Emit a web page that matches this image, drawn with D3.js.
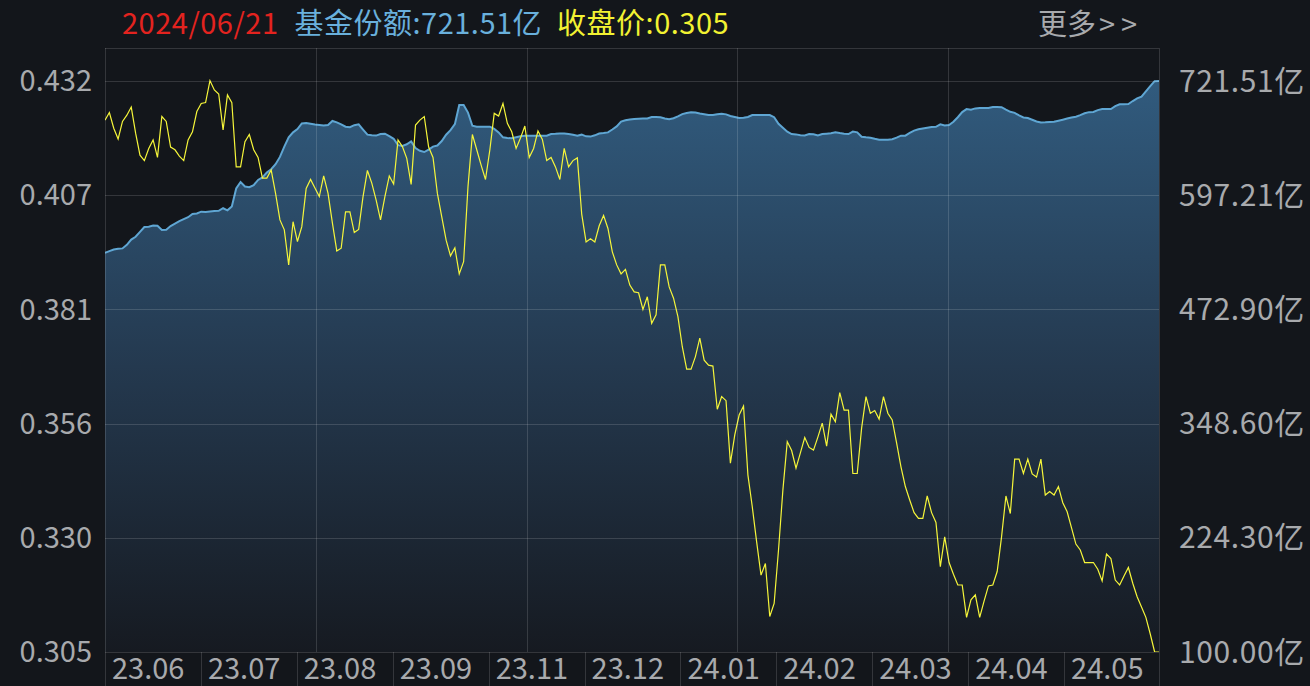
<!DOCTYPE html>
<html><head><meta charset="utf-8">
<script src="https://cdn.jsdelivr.net/npm/d3@7"></script>
<style>
html,body{margin:0;padding:0;background:#13161b;overflow:hidden;}
svg{display:block;}
text{font-family:"Noto Sans CJK SC","Noto Sans",sans-serif;}
</style></head>
<body>
<svg id="c" width="1310" height="686"></svg>
<script>
const headerDate = "2024/06/21";
const headerShare = "基金份额:721.51亿";
const headerPrice = "收盘价:0.305";
const moreLabel = "更多";
const moreArrows = ">>";

const monthLabels = ["23.06","23.07","23.08","23.09","23.11","23.12","24.01","24.02","24.03","24.04","24.05"];
const priceTicks = [0.432, 0.4066, 0.3812, 0.3558, 0.3304, 0.305];
const priceTickLabels = ["0.432","0.407","0.381","0.356","0.330","0.305"];
const shareTicks = [721.51, 597.21, 472.90, 348.60, 224.30, 100.00];
const shareTickLabels = ["721.51亿","597.21亿","472.90亿","348.60亿","224.30亿","100.00亿"];

// closing price (daily)
const closePrice = [
0.4233,0.4250,0.4215,0.4191,0.4230,0.4244,0.4262,0.4204,0.4155,0.4143,
0.4170,0.4189,0.4150,0.4241,0.4230,0.4173,0.4167,0.4153,0.4143,0.4189,
0.4207,0.4252,0.4270,0.4272,0.4321,0.4300,0.4291,0.4211,0.4289,0.4272,
0.4129,0.4129,0.4185,0.4201,0.4167,0.4150,0.4104,0.4104,0.4122,0.4070,
0.4011,0.3989,0.3911,0.4007,0.3963,0.3996,0.4081,0.4101,0.4082,0.4063,
0.4109,0.4070,0.4004,0.3942,0.3948,0.4029,0.4029,0.3983,0.3990,0.4063,
0.4121,0.4093,0.4055,0.4011,0.4063,0.4109,0.4091,0.4189,0.4174,0.4148,
0.4090,0.4222,0.4233,0.4241,0.4173,0.4150,0.4070,0.4018,0.3966,0.3931,
0.3949,0.3891,0.3918,0.4085,0.4201,0.4167,0.4133,0.4101,0.4167,0.4248,
0.4242,0.4270,0.4226,0.4207,0.4170,0.4193,0.4220,0.4150,0.4170,0.4209,
0.4190,0.4143,0.4150,0.4129,0.4101,0.4170,0.4129,0.4143,0.4149,0.4024,
0.3962,0.3969,0.3962,0.3998,0.4021,0.3992,0.3940,0.3911,0.3891,0.3901,
0.3866,0.3851,0.3849,0.3812,0.3840,0.3781,0.3800,0.3911,0.3911,0.3862,
0.3837,0.3796,0.3729,0.3679,0.3679,0.3707,0.3748,0.3699,0.3688,0.3686,
0.3590,0.3618,0.3609,0.3470,0.3533,0.3577,0.3597,0.3444,0.3373,0.3295,
0.3221,0.3247,0.3129,0.3158,0.3277,0.3410,0.3518,0.3498,0.3459,0.3493,
0.3527,0.3505,0.3499,0.3528,0.3559,0.3508,0.3579,0.3562,0.3627,0.3588,
0.3588,0.3447,0.3447,0.3548,0.3618,0.3581,0.3587,0.3568,0.3618,0.3581,
0.3566,0.3515,0.3462,0.3418,0.3388,0.3360,0.3347,0.3347,0.3397,0.3360,
0.3338,0.3240,0.3306,0.3249,0.3223,0.3199,0.3199,0.3127,0.3166,0.3177,
0.3127,0.3163,0.3197,0.3199,0.3229,0.3306,0.3397,0.3358,0.3479,0.3479,
0.3447,0.3479,0.3446,0.3439,0.3479,0.3399,0.3407,0.3399,0.3418,0.3382,
0.3362,0.3326,0.3290,0.3277,0.3249,0.3249,0.3249,0.3234,0.3208,0.3268,
0.3258,0.3210,0.3199,0.3219,0.3238,0.3203,0.3173,0.3150,0.3127,0.3090,
0.3050,0.3050
];

// fund shares (亿份, daily)
const fundShares = [
534.6,536.4,538.1,538.9,539.3,543.2,548.9,552.0,557.3,562.6,
562.9,564.2,563.9,559.3,559.6,563.6,566.2,568.9,571.1,573.2,
576.8,577.3,579.3,578.8,579.4,580.0,580.2,583.0,580.7,585.0,
604.6,611.6,606.7,606.0,608.2,613.8,616.5,621.8,625.5,631.0,
638.9,650.1,660.3,665.6,669.1,675.3,675.8,674.9,674.1,673.6,
673.1,673.7,678.0,676.5,674.4,671.8,671.3,673.4,674.3,668.6,
663.1,662.4,662.1,663.8,664.2,661.4,658.6,651.7,650.9,652.6,
655.7,648.5,645.6,644.2,646.8,650.1,651.3,656.2,663.0,668.0,
674.5,695.4,695.4,687.1,672.8,671.8,671.8,671.8,671.8,669.3,
665.6,660.2,659.5,659.1,660.2,661.4,662.0,662.0,662.0,662.0,
662.0,662.0,663.8,664.0,664.4,664.3,663.7,663.0,661.9,663.1,
661.3,661.0,662.4,664.3,664.8,665.6,668.7,672.1,677.3,678.7,
679.7,680.2,680.4,680.6,680.8,682.2,682.4,682.0,680.8,679.9,
681.0,683.0,685.5,686.7,687.4,687.1,686.1,685.4,684.5,684.5,
685.3,685.9,685.2,683.5,682.3,681.2,681.6,682.4,684.5,684.5,
684.5,684.5,684.5,682.1,674.9,670.6,666.4,663.8,663.4,662.4,
662.2,663.8,663.6,662.2,663.8,664.2,664.7,665.7,664.8,664.2,
663.8,666.4,665.6,660.8,660.2,659.8,658.6,657.6,657.6,657.6,
658.1,659.9,662.0,662.0,665.0,667.5,668.9,669.9,670.7,671.4,
671.7,674.3,673.2,673.6,677.2,682.1,687.7,690.9,690.3,691.7,
692.1,692.1,692.1,693.1,693.2,693.0,690.4,688.0,686.8,684.0,
681.8,681.2,679.3,677.5,676.3,676.5,676.9,677.2,678.3,679.4,
680.6,681.8,682.7,684.3,686.4,687.6,687.8,689.8,690.9,691.0,
691.0,694.1,696.2,696.3,696.5,699.7,702.6,704.5,710.3,716.0,
721.3,721.51
];

const W = 1310, H = 686;
const L = 105, R = 1159, T = 48, B = 652, AX = 686;
const svg = d3.select("#c");

const x = d3.scaleLinear().domain([0, closePrice.length - 1]).range([L, R]);
const yP = d3.scaleLinear().domain([0.305, 0.432]).range([B, 81]);
const yS = d3.scaleLinear().domain([100, 721.51]).range([B, 81]);
const xBand = d3.scaleBand().domain(monthLabels).range([L, R + 1]);
const xGrid = d3.scaleLinear().domain([0, 5]).range([L, R]);

const defs = svg.append("defs");
const grad = defs.append("linearGradient").attr("id","ag")
  .attr("gradientUnits","userSpaceOnUse").attr("x1",0).attr("x2",0).attr("y1",81).attr("y2",B);
grad.append("stop").attr("offset","0%").attr("stop-color","#315b7e");
grad.append("stop").attr("offset","50%").attr("stop-color","#24394f");
grad.append("stop").attr("offset","100%").attr("stop-color","#161a21");
defs.append("clipPath").attr("id","clip").append("rect")
  .attr("x",L).attr("y",T).attr("width",R-L).attr("height",B-T);

// area of fund shares
const area = d3.area().x((d,i)=>x(i)).y0(B).y1(d=>yS(d)).curve(d3.curveLinear);
const sline = d3.line().x((d,i)=>x(i)).y(d=>yS(d));
const g = svg.append("g").attr("clip-path","url(#clip)");
g.append("path").datum(fundShares).attr("d",area).attr("fill","url(#ag)");
g.append("path").datum(fundShares).attr("d",sline).attr("fill","none")
  .attr("stroke","#5fa6d3").attr("stroke-width",2);

// grid
const gridCol = "rgba(255,255,255,0.14)";
const grid = svg.append("g");
grid.selectAll("line.h").data(priceTicks).join("line")
  .attr("x1",L).attr("x2",R).attr("y1",d=>Math.round(yP(d))+0.5).attr("y2",d=>Math.round(yP(d))+0.5)
  .attr("stroke",gridCol).attr("stroke-width",1);
grid.selectAll("line.v").data(d3.range(1,5)).join("line")
  .attr("x1",d=>Math.round(xGrid(d))+0.5).attr("x2",d=>Math.round(xGrid(d))+0.5)
  .attr("y1",T).attr("y2",B).attr("stroke",gridCol);
// frame
grid.append("line").attr("x1",L).attr("x2",R).attr("y1",T+0.5).attr("y2",T+0.5).attr("stroke",gridCol);
grid.append("line").attr("x1",L+0.5).attr("x2",L+0.5).attr("y1",T).attr("y2",AX).attr("stroke",gridCol);
grid.append("line").attr("x1",R+0.5).attr("x2",R+0.5).attr("y1",T).attr("y2",AX).attr("stroke",gridCol);
// bottom axis separators
grid.selectAll("line.s").data(monthLabels.slice(1)).join("line")
  .attr("x1",d=>Math.round(xBand(d))+0.5).attr("x2",d=>Math.round(xBand(d))+0.5)
  .attr("y1",B).attr("y2",AX).attr("stroke",gridCol);

// price line
g.append("path").datum(closePrice)
  .attr("d", d3.line().x((d,i)=>x(i)).y(d=>yP(d)))
  .attr("fill","none").attr("stroke","#f6f63a").attr("stroke-width",1.2);

// axes labels
const labCol = "#a8aaad";
svg.append("g").selectAll("text").data(priceTicks).join("text")
  .attr("x",92).attr("y",d=>yP(d)).attr("dy","0.35em").attr("text-anchor","end")
  .attr("fill",labCol).attr("font-size",29).text((d,i)=>priceTickLabels[i]);
svg.append("g").selectAll("text").data(shareTicks).join("text")
  .attr("x",1179).attr("y",d=>yS(d)).attr("dy","0.35em").attr("text-anchor","start")
  .attr("fill",labCol).attr("font-size",30).attr("letter-spacing",0.6).text((d,i)=>shareTickLabels[i]);
svg.append("g").selectAll("text").data(monthLabels).join("text")
  .attr("x",d=>xBand(d)+7).attr("y",669).attr("dy","0.35em")
  .attr("fill",labCol).attr("font-size",29).text(d=>d);

// header
const hdr = svg.append("text").attr("y",34).attr("font-size",29).attr("letter-spacing",0.5);
hdr.append("tspan").attr("x",122).attr("fill","#e3231f").text(headerDate);
hdr.append("tspan").attr("dx",16).attr("fill","#69b0dc").text(headerShare);
hdr.append("tspan").attr("dx",15).attr("fill","#f2f232").text(headerPrice);
const more = svg.append("text").attr("x",1038).attr("y",35).attr("font-size",29)
  .attr("fill",labCol);
more.append("tspan").text(moreLabel);
more.append("tspan").attr("dx",3).attr("letter-spacing",6).text(moreArrows);
</script>
</body></html>
